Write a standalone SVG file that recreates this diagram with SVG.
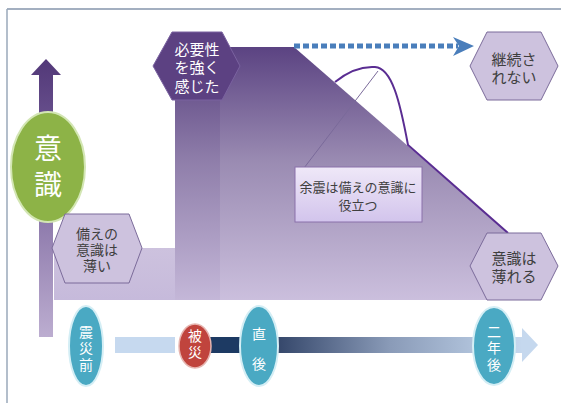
<svg xmlns="http://www.w3.org/2000/svg" width="561" height="403" viewBox="0 0 561 403">
<defs>
<linearGradient id="gMain" gradientUnits="userSpaceOnUse" x1="0" y1="47" x2="0" y2="300">
<stop offset="0" stop-color="#5b4382"/><stop offset="0.45" stop-color="#9a8bb2"/><stop offset="1" stop-color="#cbbfdd"/>
</linearGradient>
<linearGradient id="gCol" gradientUnits="userSpaceOnUse" x1="0" y1="47" x2="0" y2="300">
<stop offset="0" stop-color="#563d7d"/><stop offset="0.45" stop-color="#8f7eaa"/><stop offset="1" stop-color="#c4b7d8"/>
</linearGradient>
<linearGradient id="gBand" x1="0" y1="0" x2="0" y2="1">
<stop offset="0" stop-color="#cdc2de"/><stop offset="1" stop-color="#c6badb"/>
</linearGradient>
<linearGradient id="gUp" gradientUnits="userSpaceOnUse" x1="0" y1="59" x2="0" y2="337">
<stop offset="0" stop-color="#523878"/><stop offset="0.3" stop-color="#6f5894"/><stop offset="1" stop-color="#bcadd0"/>
</linearGradient>
<linearGradient id="gCall" x1="0" y1="0" x2="0" y2="1">
<stop offset="0" stop-color="#efe8f8"/><stop offset="1" stop-color="#d2c4ec"/>
</linearGradient>
<linearGradient id="gTime" gradientUnits="userSpaceOnUse" x1="259" y1="0" x2="522" y2="0">
<stop offset="0" stop-color="#27395e"/><stop offset="0.5" stop-color="#8a9bb8"/><stop offset="1" stop-color="#c5d8ee"/>
</linearGradient>
<style>
.t{font-family:"Noto Sans CJK JP","Noto Sans",sans-serif;text-anchor:middle}
.v{font-family:"Noto Sans CJK JP","Noto Sans",sans-serif;text-anchor:middle;writing-mode:tb}
.w{fill:#ffffff}
.d{fill:#3f3f3f}
.hexL{fill:#cdc2de;stroke:#7b6b9a;stroke-width:1}
.teal{fill:#4aa9c3;stroke:#d4eef5;stroke-width:2}
</style>
</defs>
<rect width="561" height="403" fill="#ffffff"/>
<g id="frame">
<line x1="7" y1="9" x2="561" y2="9" stroke="#8595ab" stroke-width="1.5"/>
<line x1="7" y1="9" x2="7" y2="403" stroke="#9aa8ba" stroke-width="1.5"/>
</g>
<g id="area">
<rect x="54" y="248" width="122" height="52" fill="url(#gBand)"/>
<polygon points="175,47 294,47 508,233 508,300 175,300" fill="url(#gMain)"/>
<rect x="175" y="47" width="45" height="253" fill="url(#gCol)"/>
</g>
<g id="axis">
<polygon points="39,75 31,75 46,59 61,75 53,75 53,337 39,337" fill="url(#gUp)"/>
</g>
<g id="connectors">
<line x1="294" y1="46" x2="458" y2="46" stroke="#4a7ebb" stroke-width="5" stroke-dasharray="6 3"/>
<polygon points="453,37 474,46 453,56 459,46" fill="#4a7ebb"/>
<path d="M335,82 C346,73 360,66 375,67 C392,68 400,102 408,145 L508,233" fill="none" stroke="#5a2d92" stroke-width="2"/>
<line x1="304" y1="168" x2="378" y2="71" stroke="#7a6a9a" stroke-width="1"/>
<rect x="115" y="337" width="60" height="16" fill="#c6d9ef"/>
<rect x="210" y="337" width="35" height="16" fill="#1d3a63"/>
<rect x="259" y="337" width="263" height="16" fill="url(#gTime)"/>
<polygon points="522,328 538,345 522,362" fill="#c5d8ee"/>
</g>
<g id="ishiki">
<ellipse cx="48" cy="167" rx="37" ry="55" fill="#8db347" stroke="#d3e6b4" stroke-width="2"/>
<text class="v w" x="48" y="170" font-size="28" letter-spacing="8">意識</text>
</g>
<g id="hitsuyousei">
<polygon points="153,66 172,32 222,32 240,66 222,100 172,100" fill="#5c4182" stroke="#7a62a0" stroke-width="1"/>
<text class="t w" font-size="15"><tspan x="197" y="55">必要性</tspan><tspan x="197" y="73">を強く</tspan><tspan x="197" y="92">感じた</tspan></text>
</g>
<g id="keizoku">
<polygon class="hexL" points="470,66 487,32 541,32 558,66 541,100 487,100"/>
<text class="t d" font-size="15"><tspan x="514" y="65">継続さ</tspan><tspan x="514" y="83">れない</tspan></text>
</g>
<g id="usui">
<polygon class="hexL" points="52,248 65,214 129,214 142,248 129,283 65,283"/>
<text class="t d" font-size="14"><tspan x="97" y="239">備えの</tspan><tspan x="97" y="255">意識は</tspan><tspan x="97" y="271">薄い</tspan></text>
</g>
<g id="usureru">
<polygon class="hexL" points="470,266 487,233 541,233 558,266 541,300 487,300"/>
<text class="t d" font-size="15"><tspan x="514" y="264">意識は</tspan><tspan x="514" y="282">薄れる</tspan></text>
</g>
<g id="yoshin">
<rect x="295" y="167" width="127" height="55" fill="url(#gCall)" stroke="#8a70aa" stroke-width="1"/>
<text class="t d" font-size="13"><tspan x="358" y="191.5">余震は備えの意識に</tspan><tspan x="358" y="209.5">役立つ</tspan></text>
</g>
<g id="shinsaimae">
<ellipse class="teal" cx="86" cy="346" rx="17" ry="40"/>
<text class="v w" x="86" y="349" font-size="14" letter-spacing="2.5">震災前</text>
</g>
<g id="hisai">
<ellipse cx="195" cy="346" rx="16" ry="22" fill="#c0443d" stroke="#e6b5b0" stroke-width="1.5"/>
<text class="v w" x="195" y="345" font-size="14" letter-spacing="2">被災</text>
</g>
<g id="chokugo">
<ellipse class="teal" cx="259" cy="346" rx="19" ry="40"/>
<text class="v w" x="259" y="357" font-size="14" letter-spacing="16">直後</text>
</g>
<g id="ninengo">
<ellipse class="teal" cx="494" cy="346" rx="21" ry="39"/>
<text class="v w" x="494" y="349" font-size="14" letter-spacing="2.5">二年後</text>
</g>
</svg>
